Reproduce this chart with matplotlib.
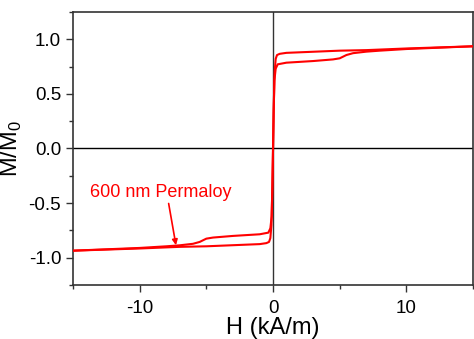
import matplotlib
matplotlib.use("Agg")
import matplotlib.pyplot as plt
from matplotlib.ticker import MultipleLocator, FuncFormatter

plt.rcParams['font.family'] = ['Liberation Sans', 'DejaVu Sans']
plt.rcParams['mathtext.fontset'] = 'custom'
plt.rcParams['mathtext.rm'] = 'Liberation Sans'

# Descending branch (field swept from +15 to -15 kA/m)
H_desc = [15, 10, 7, 5, 2, 1, 0.5, 0.3, 0.2, 0.12, 0.05, 0.0, -0.05, -0.1, -0.2, -0.35,
          -1, -3, -4.5, -5.0, -5.5, -6, -7, -8, -10, -15]
M_desc = [0.935, 0.915, 0.90, 0.895, 0.88, 0.875, 0.866, 0.855, 0.82, 0.70, 0.35, 0.0, -0.35, -0.62, -0.73, -0.77,
          -0.785, -0.80, -0.815, -0.825, -0.855, -0.872, -0.886, -0.895, -0.91, -0.935]
# Ascending branch (field swept from -15 to +15 kA/m)
H_asc = [-h for h in H_desc]
M_asc = [-m for m in M_desc]

label_text = "600 nm Permaloy"

fig = plt.figure(figsize=(4.74, 3.39), dpi=100)
ax = fig.add_axes([0.154, 0.159, 0.844, 0.806])

ax.axvline(0, color='#333333', lw=1.0, zorder=1)
ax.axhline(0, color='black', lw=1.0, zorder=1)
ax.plot(H_desc, M_desc, color='#ff0000', lw=1.5, zorder=3)
ax.plot(H_asc, M_asc, color='#ff0000', lw=1.5, zorder=3)

ax.set_xlim(-15, 15)
ax.set_ylim(-1.25, 1.25)
ax.xaxis.set_major_locator(MultipleLocator(10))
ax.xaxis.set_minor_locator(MultipleLocator(5))
ax.yaxis.set_major_locator(MultipleLocator(0.5))
ax.yaxis.set_minor_locator(MultipleLocator(0.25))
ax.tick_params(which='major', direction='out', length=5, width=1.0, labelsize=13.5, color='#333333')
ax.tick_params(which='minor', direction='out', length=3, width=1.0, color='#333333')
ax.tick_params(axis='x', pad=6)
ax.xaxis.set_major_formatter(FuncFormatter(lambda v, p: f"{v:g}"))
ax.yaxis.set_major_formatter(FuncFormatter(lambda v, p: f"{v:.1f}"))
for s in ax.spines.values():
    s.set_color('#333333')
    s.set_linewidth(1.2)

ax.set_xlabel('H (kA/m)', fontsize=17, labelpad=0)
ax.set_ylabel('M/M$_\\mathregular{0}$', fontsize=17, labelpad=3)

ax.annotate(label_text, xy=(-7.28, -0.885), xytext=(-13.7, -0.40),
            color='#ff0000', fontsize=13, va='center', ha='left',
            arrowprops=dict(arrowstyle='-|>', color='#ff0000', lw=1.2,
                            shrinkA=0, shrinkB=0, mutation_scale=8,
                            relpos=(0.55, 0.0)))

fig.savefig('out.png', dpi=100)
